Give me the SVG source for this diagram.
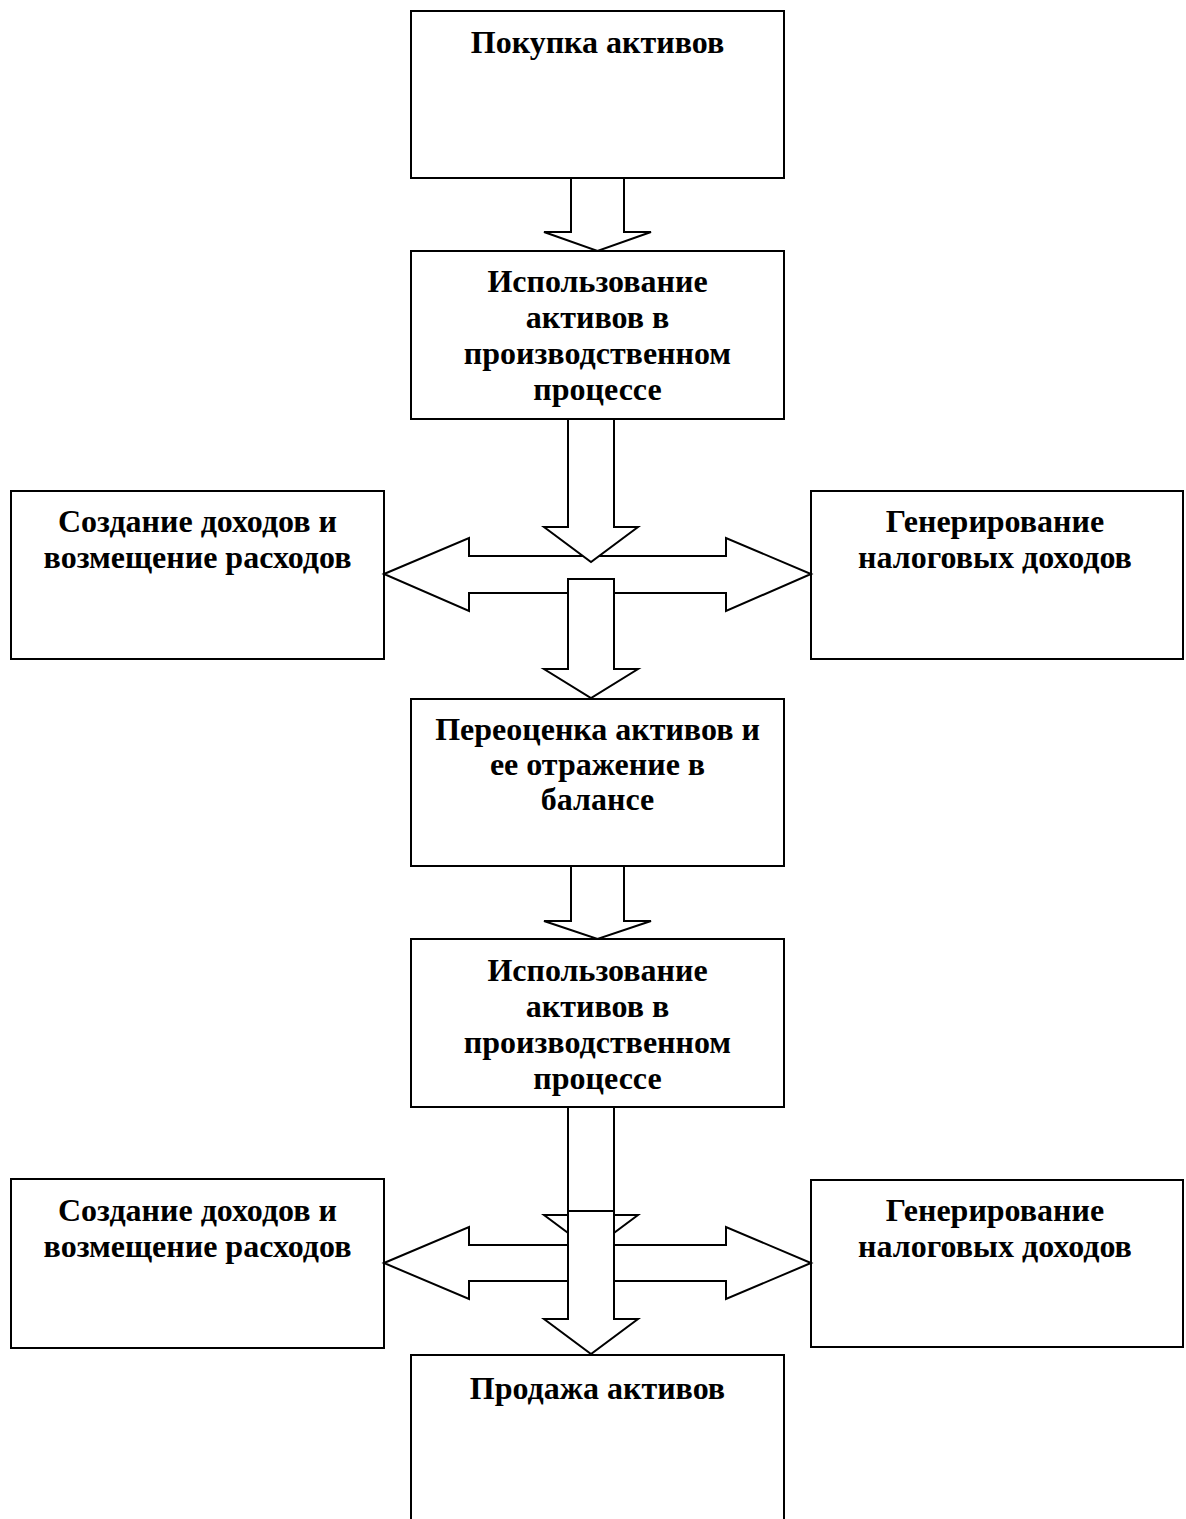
<svg xmlns="http://www.w3.org/2000/svg" width="1186" height="1519" viewBox="0 0 1186 1519">
<style>
.box{fill:#fff;stroke:#000;stroke-width:2}
.arr{fill:#fff;stroke:#000;stroke-width:2;stroke-linejoin:miter}
.t{font-family:"Liberation Serif","Times New Roman",serif;font-weight:bold;font-size:32px;fill:#000;text-anchor:middle}
</style>
<rect width="1186" height="1519" fill="#fff"/>
<g id="n1"><rect class="box" x="411" y="11" width="373" height="167"/><text class="t" x="597.5" y="53">Покупка активов</text></g>
<g id="n2"><rect class="box" x="411" y="251" width="373" height="168"/><text class="t" x="597.5" y="292">Использование</text><text class="t" x="597.5" y="328">активов в</text><text class="t" x="597.5" y="364">производственном</text><text class="t" x="597.5" y="400">процессе</text></g>
<g id="n3"><rect class="box" x="11" y="491" width="373" height="168"/><text class="t" x="197.5" y="532">Создание доходов и</text><text class="t" x="197.5" y="568">возмещение расходов</text></g>
<g id="n4"><rect class="box" x="811" y="491" width="372" height="168"/><text class="t" x="995" y="532">Генерирование</text><text class="t" x="995" y="568">налоговых доходов</text></g>
<g id="n5"><rect class="box" x="411" y="699" width="373" height="167"/><text class="t" x="597.5" y="740">Переоценка активов и</text><text class="t" x="597.5" y="775">ее отражение в</text><text class="t" x="597.5" y="810">балансе</text></g>
<g id="n6"><rect class="box" x="411" y="939" width="373" height="168"/><text class="t" x="597.5" y="981">Использование</text><text class="t" x="597.5" y="1017">активов в</text><text class="t" x="597.5" y="1053">производственном</text><text class="t" x="597.5" y="1089">процессе</text></g>
<g id="n7"><rect class="box" x="11" y="1179" width="373" height="169"/><text class="t" x="197.5" y="1221">Создание доходов и</text><text class="t" x="197.5" y="1257">возмещение расходов</text></g>
<g id="n8"><rect class="box" x="811" y="1180" width="372" height="167"/><text class="t" x="995" y="1221">Генерирование</text><text class="t" x="995" y="1257">налоговых доходов</text></g>
<g id="n9"><rect class="box" x="411" y="1355" width="373" height="180"/><text class="t" x="597.5" y="1399">Продажа активов</text></g>
<g id="connectors">
<polygon class="arr" points="571,178 624,178 624,232 651,232 597.5,251 544,232 571,232"/>
<polygon class="arr" points="384,574 469,538 469,556 726,556 726,538 811,574 726,611 726,593 469,593 469,611"/>
<polygon class="arr" points="568,419 614,419 614,527 638,527 591,562 544,527 568,527"/>
<polygon class="arr" points="568,579 614,579 614,669 638,669 591,698 544,669 568,669"/>
<polygon class="arr" points="571,866 624,866 624,921 651,921 597.5,939 544,921 571,921"/>
<polygon class="arr" points="568,1107 614,1107 614,1215 638,1215 591,1250 544,1215 568,1215"/>
<polygon class="arr" points="384,1263 469,1227 469,1245 726,1245 726,1227 811,1263 726,1299 726,1281 469,1281 469,1299"/>
<polygon class="arr" points="568,1211 614,1211 614,1319 638,1319 591,1354 544,1319 568,1319"/>
</g>
</svg>
